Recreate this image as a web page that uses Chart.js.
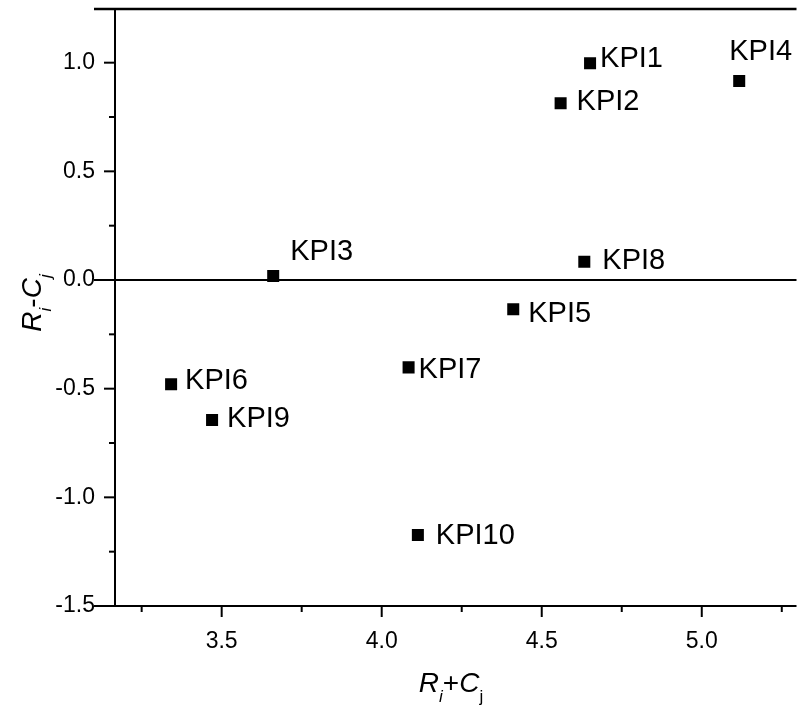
<!DOCTYPE html>
<html>
<head>
<meta charset="utf-8">
<script src="https://cdn.jsdelivr.net/npm/chart.js@4.4.0/dist/chart.umd.min.js"></script>
<style>
  html, body { margin: 0; padding: 0; background: #fff; }
  #wrap { width: 805px; height: 708px; }
</style>
</head>
<body>
<div id="wrap"><canvas id="grafico" width="805" height="708"></canvas></div>
<script>
// dados
const kpis = ['KPI1', 'KPI2', 'KPI3', 'KPI4', 'KPI5', 'KPI6', 'KPI7', 'KPI8', 'KPI9', 'KPI10'];
const somaRC = [4.651, 4.559, 3.661, 5.117, 4.411, 3.342, 4.084, 4.633, 3.470, 4.113]; // Ri+Cj
const difRC = [0.997, 0.813, 0.018, 0.916, -0.135, -0.480, -0.402, 0.084, -0.644, -1.173]; // Ri-Cj

const xTicks = [3.5, 4.0, 4.5, 5.0];
const xMinorTicks = [3.25, 3.75, 4.25, 4.75, 5.25];
const yTicks = [-1.5, -1.0, -0.5, 0.0, 0.5, 1.0];
const yMinorTicks = [-1.25, -0.75, -0.25, 0.25, 0.75];

// deslocamento do rótulo em relação ao ponto (px)
const rotuloDesloc = [[10, -4], [16, -1], [17, -24], [-10, -29], [15, 5], [14, -3], [10, 3], [18, -1], [15, -1], [18, 1]];

const FONTE = '"Liberation Sans", Arial, sans-serif';

function textoRico(ctx, partes, x, y) {
  let total = 0;
  partes.forEach(p => { ctx.font = p.f; total += ctx.measureText(p.t).width; });
  let cx = x - total / 2;
  partes.forEach(p => {
    ctx.font = p.f;
    ctx.fillText(p.t, cx, y + (p.dy || 0));
    cx += ctx.measureText(p.t).width;
  });
}

const eixos = {
  id: 'eixos',
  beforeDatasetsDraw(chart) {
    const ctx = chart.ctx;
    const a = chart.chartArea;
    const xs = chart.scales.x, ys = chart.scales.y;
    ctx.save();
    ctx.strokeStyle = '#000';
    ctx.lineCap = 'butt';
    // linhas horizontais (topo, zero, base)
    [a.top, ys.getPixelForValue(0), a.bottom].forEach((py, i) => {
      ctx.lineWidth = i === 0 ? 2.5 : 2;
      ctx.beginPath();
      ctx.moveTo(a.left - 21, py);
      ctx.lineTo(a.right, py);
      ctx.stroke();
    });
    ctx.lineWidth = 2;
    ctx.beginPath();
    ctx.moveTo(a.left, a.top);
    ctx.lineTo(a.left, a.bottom);
    ctx.stroke();
    // ticks
    xTicks.forEach(v => { const px = xs.getPixelForValue(v); ctx.beginPath(); ctx.moveTo(px, a.bottom); ctx.lineTo(px, a.bottom + 11); ctx.stroke(); });
    xMinorTicks.forEach(v => { const px = xs.getPixelForValue(v); ctx.beginPath(); ctx.moveTo(px, a.bottom); ctx.lineTo(px, a.bottom + 6); ctx.stroke(); });
    yTicks.forEach(v => { const py = ys.getPixelForValue(v); ctx.beginPath(); ctx.moveTo(a.left - 11, py); ctx.lineTo(a.left, py); ctx.stroke(); });
    yMinorTicks.forEach(v => { const py = ys.getPixelForValue(v); ctx.beginPath(); ctx.moveTo(a.left - 6, py); ctx.lineTo(a.left, py); ctx.stroke(); });
    ctx.restore();
  },
  afterDraw(chart) {
    const ctx = chart.ctx;
    const meta = chart.getDatasetMeta(0);
    ctx.save();
    ctx.fillStyle = '#000';
    ctx.textBaseline = 'middle';
    ctx.textAlign = 'left';
    ctx.font = '29px ' + FONTE;
    meta.data.forEach((pt, i) => {
      const d = rotuloDesloc[i];
      ctx.fillText(kpis[i], pt.x + d[0], pt.y + d[1]);
    });

    // títulos dos eixos
    ctx.textBaseline = 'alphabetic';
    const grande = '28px ' + FONTE, grandeIt = 'italic 28px ' + FONTE;
    const peq = '17px ' + FONTE, peqIt = 'italic 17px ' + FONTE;
    textoRico(ctx, [
      { t: 'R', f: grandeIt }, { t: 'i', f: peqIt, dy: 10 },
      { t: '+', f: grande }, { t: 'C', f: grandeIt }, { t: 'j', f: peq, dy: 10 }
    ], 451, 692);

    ctx.translate(41, 303);
    ctx.rotate(-Math.PI / 2);
    textoRico(ctx, [
      { t: 'R', f: grandeIt }, { t: 'i', f: peqIt, dy: 10 },
      { t: '-', f: grande }, { t: 'C', f: grandeIt }, { t: 'j', f: peqIt, dy: 10 }
    ], 0, 0);
    ctx.restore();
  }
};

const ctx = document.getElementById('grafico').getContext('2d');

new Chart(ctx, {
  type: 'scatter',
  data: {
    datasets: [{
      label: 'KPI',
      data: somaRC.map((x, i) => ({ x: x, y: difRC[i] })),
      backgroundColor: '#000',
      borderColor: '#000',
      borderWidth: 0,
      pointStyle: 'rect',
      pointRadius: 8.5
    }]
  },
  options: {
    responsive: false,
    devicePixelRatio: 1,
    animation: false,
    layout: { padding: { top: 9, left: 0, right: 0, bottom: 0 } },
    plugins: { legend: { display: false }, tooltip: { enabled: false } },
    scales: {
      x: {
        type: 'linear',
        min: 3.1667,
        max: 5.296,
        grid: { display: false, drawTicks: false },
        border: { display: false },
        ticks: {
          color: '#000',
          font: { family: FONTE, size: 23 },
          padding: 22,
          maxRotation: 0,
          autoSkip: false,
          callback: v => v.toFixed(1)
        },
        afterBuildTicks: s => { s.ticks = xTicks.map(v => ({ value: v })); },
        afterFit: s => { s.height = 102; s.paddingLeft = 0; s.paddingRight = 0; }
      },
      y: {
        min: -1.5,
        max: 1.247,
        grid: { display: false, drawTicks: false },
        border: { display: false },
        ticks: {
          color: '#000',
          font: { family: FONTE, size: 23 },
          padding: 20,
          autoSkip: false,
          callback: v => v.toFixed(1)
        },
        afterBuildTicks: s => { s.ticks = yTicks.map(v => ({ value: v })); },
        afterFit: s => { s.width = 115; s.paddingTop = 0; s.paddingBottom = 0; }
      }
    }
  },
  plugins: [eixos]
});
</script>
</body>
</html>
